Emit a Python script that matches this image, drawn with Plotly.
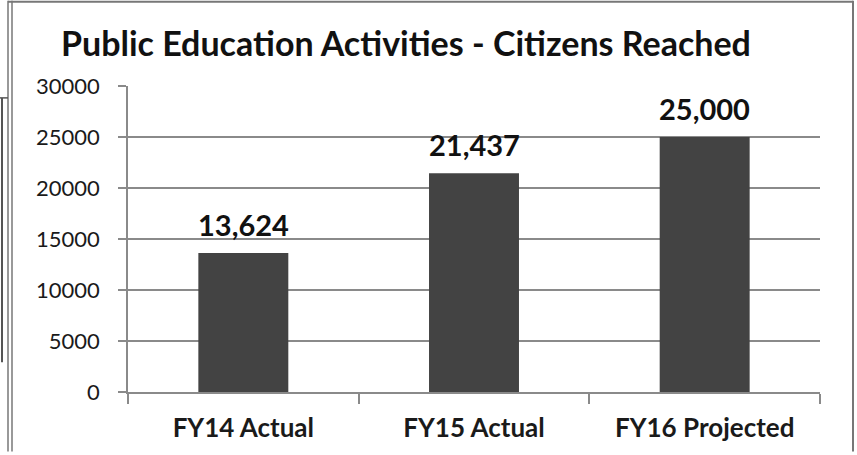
import plotly.graph_objects as go

categories = ["FY14 Actual", "FY15 Actual", "FY16 Projected"]
values = [13624, 21437, 25000]
value_labels = ["13,624", "21,437", "25,000"]
y_ticks = [0, 5000, 10000, 15000, 20000, 25000, 30000]

W, H = 857, 455
L, R, T, B = 128, 820, 86, 395  # plot area pixels

def px(x):
    return (x - L) / (R - L)

def py(y):
    return (B - y) / (B - T)

fig = go.Figure()
fig.add_trace(go.Bar(
    x=categories, y=values, width=0.39,
    marker=dict(color="#434343", line=dict(width=0)),
    hoverinfo="skip",
))

for c, v, t in zip(categories, values, value_labels):
    fig.add_annotation(x=c, y=v, text="<b>%s</b>" % t, showarrow=False,
                       yanchor="bottom", yshift=9,
                       font=dict(family="Lato", size=29, color="#111111"))

fig.add_annotation(xref="paper", yref="paper", x=px(406), y=py(42),
                   xanchor="center", yanchor="middle", showarrow=False,
                   text="<b>Public Education Activities - Citizens Reached</b>",
                   font=dict(family="Lato", size=34, color="#111111"))

line_col = "#777777"
shapes = [
    dict(type="line", xref="paper", yref="paper", x0=px(8), x1=px(8), y0=py(0), y1=py(455), line=dict(color=line_col, width=1.5)),
    dict(type="line", xref="paper", yref="paper", x0=px(12), x1=px(12), y0=py(0), y1=py(455), line=dict(color=line_col, width=1.5)),
    dict(type="line", xref="paper", yref="paper", x0=px(8), x1=px(853), y0=py(1), y1=py(1), line=dict(color=line_col, width=2)),
    dict(type="line", xref="paper", yref="paper", x0=px(853), x1=px(853), y0=py(0), y1=py(455), line=dict(color=line_col, width=2)),
    dict(type="line", xref="paper", yref="paper", x0=px(2), x1=px(2), y0=py(98), y1=py(365), line=dict(color="#555555", width=2)),
    dict(type="line", xref="paper", yref="paper", x0=px(0), x1=px(8), y0=py(98), y1=py(98), line=dict(color="#555555", width=1.5)),
]

fig.update_layout(
    width=W, height=H, autosize=False,
    margin=dict(l=L, r=W - R, t=T, b=H - B, pad=0),
    paper_bgcolor="white", plot_bgcolor="white",
    showlegend=False, shapes=shapes,
    font=dict(family="Lato", color="#1a1a1a"),
    bargap=0.61,
)
fig.update_yaxes(range=[0, 30000], tickvals=y_ticks, ticktext=[str(v) for v in y_ticks],
                 showgrid=True, gridcolor="#8a8a8a", gridwidth=1.5,
                 showline=True, linecolor="#8a8a8a", linewidth=1.5,
                 ticks="outside", ticklen=8, tickcolor="#8a8a8a", tickwidth=1.5,
                 ticklabelstandoff=14,
                 tickfont=dict(family="Lato", size=22, color="#1a1a1a"),
                 zeroline=False, fixedrange=True)
fig.update_xaxes(showline=True, linecolor="#8a8a8a", linewidth=1.5,
                 ticks="outside", tickson="boundaries", ticklen=10,
                 tickcolor="#8a8a8a", tickwidth=1.5,
                 tickfont=dict(family="Lato", size=26, color="#1a1a1a"),
                 tickprefix="<b>", ticksuffix="</b>", ticklabelstandoff=12,
                 fixedrange=True)

fig.write_html("out.html")
